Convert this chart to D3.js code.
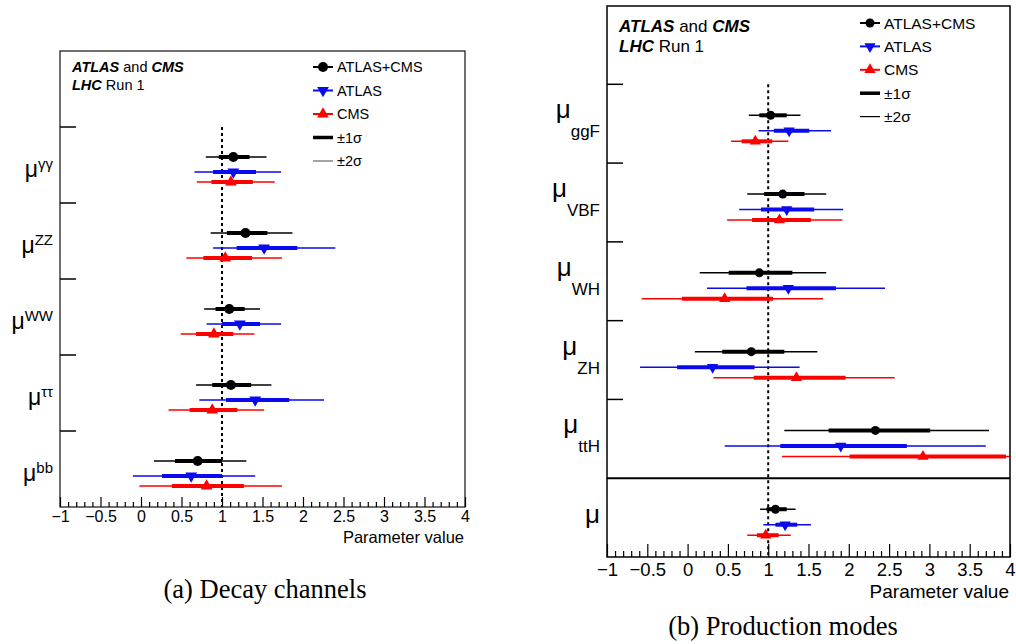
<!DOCTYPE html>
<html>
<head>
<meta charset="utf-8">
<script src="https://cdn.jsdelivr.net/npm/d3@7"></script>
<style>
  body { margin: 0; background: #fff; }
  text { font-family: "Liberation Sans", Arial, sans-serif; }
</style>
</head>
<body>
<div id="chart"></div>
<script>
// values: [central, -1σ, +1σ, -2σ, +2σ]
const decayChannels = ["γγ", "ZZ", "WW", "ττ", "bb"];
const decayComb = [
	[1.14, 0.96, 1.34, 0.80, 1.55],
	[1.29, 1.06, 1.56, 0.86, 1.87],
	[1.09, 0.92, 1.28, 0.78, 1.47],
	[1.11, 0.88, 1.36, 0.68, 1.61],
	[0.70, 0.42, 1.00, 0.16, 1.30],
];
const decayAtlas = [
	[1.14, 0.89, 1.42, 0.66, 1.73],
	[1.52, 1.18, 1.93, 0.89, 2.40],
	[1.22, 1.00, 1.47, 0.81, 1.73],
	[1.41, 1.05, 1.83, 0.72, 2.26],
	[0.62, 0.26, 1.00, -0.10, 1.41],
];
const decayCms = [
	[1.11, 0.87, 1.38, 0.69, 1.65],
	[1.04, 0.77, 1.37, 0.56, 1.74],
	[0.90, 0.68, 1.14, 0.49, 1.40],
	[0.88, 0.60, 1.19, 0.34, 1.52],
	[0.81, 0.38, 1.27, -0.02, 1.74],
];

const prodModes = ["ggF", "VBF", "WH", "ZH", "ttH", ""];
const prodComb = [
	[1.03, 0.89, 1.23, 0.76, 1.40],
	[1.18, 0.95, 1.45, 0.74, 1.72],
	[0.89, 0.51, 1.30, 0.15, 1.72],
	[0.79, 0.43, 1.20, 0.09, 1.61],
	[2.33, 1.75, 3.01, 1.20, 3.74],
	[1.09, 0.98, 1.23, 0.90, 1.34],
];
const prodAtlas = [
	[1.26, 1.07, 1.51, 0.88, 1.78],
	[1.23, 0.91, 1.57, 0.64, 1.93],
	[1.25, 0.73, 1.84, 0.24, 2.45],
	[0.31, -0.13, 0.83, -0.59, 1.39],
	[1.90, 1.15, 2.72, 0.46, 3.70],
	[1.21, 1.09, 1.36, 0.94, 1.53],
];
const prodCms = [
	[0.84, 0.67, 1.05, 0.54, 1.25],
	[1.14, 0.80, 1.53, 0.49, 1.92],
	[0.46, -0.07, 1.06, -0.57, 1.68],
	[1.35, 0.82, 1.96, 0.32, 2.57],
	[2.92, 2.01, 3.95, 1.17, 4.90],
	[0.97, 0.86, 1.13, 0.74, 1.28],
];

const xDomain = [-1, 4];
const majorTicks = d3.range(-1, 4.001, 0.5);
const minorTicks = d3.range(-1, 4.001, 0.1).filter((v) => Math.abs(v * 2 - Math.round(v * 2)) > 1e-6);
const legendNames = ["ATLAS+CMS", "ATLAS", "CMS", "±1σ", "±2σ"];

const svg = d3
	.select("#chart")
	.append("svg")
	.attr("width", 1016)
	.attr("height", 644);

const series_style = [
	{ color: "#000", shape: "circle" },
	{ color: "#0a0aee", shape: "down" },
	{ color: "#f00", shape: "up" },
];

function marker(g, shape, x, y, color, s) {
	if (shape == "circle") {
		g.append("circle").attr("cx", x).attr("cy", y).attr("r", s.r).attr("fill", color);
	} else {
		const sym = d3.symbol().type(d3.symbolTriangle).size(s.tri);
		g.append("path")
			.attr("d", sym)
			.attr("fill", color)
			.attr("transform", `translate(${x},${y}) rotate(${shape == "down" ? 180 : 0})`);
	}
}

function draw_panel(cfg) {
	const g = svg.append("g");
	const x = d3.scaleLinear().domain(xDomain).range([cfg.left, cfg.right]);
	const y = d3.scaleBand().domain(d3.range(cfg.rows.length)).range([cfg.bandTop, cfg.bottom]);

	const clipId = "clip" + cfg.id;
	g.append("clipPath").attr("id", clipId)
		.append("rect")
		.attr("x", cfg.left).attr("y", cfg.top)
		.attr("width", cfg.right - cfg.left).attr("height", cfg.bottom - cfg.top);

	// dotted SM line
	g.append("line")
		.attr("x1", x(1)).attr("x2", x(1))
		.attr("y1", cfg.bandTop).attr("y2", cfg.bottom)
		.attr("stroke", "#000").attr("stroke-width", 2)
		.attr("stroke-dasharray", "3,3");

	const data_g = g.append("g").attr("clip-path", `url(#${clipId})`);
	cfg.series.forEach((vals, si) => {
		const st = series_style[si];
		vals.forEach((v, i) => {
			const yy = y(i) + cfg.offsets[si];
			data_g.append("line")
				.attr("x1", x(v[3])).attr("x2", x(v[4]))
				.attr("y1", yy).attr("y2", yy)
				.attr("stroke", st.color).attr("stroke-width", cfg.thin);
			data_g.append("line")
				.attr("x1", x(v[1])).attr("x2", x(v[2]))
				.attr("y1", yy).attr("y2", yy)
				.attr("stroke", st.color).attr("stroke-width", cfg.thick);
			marker(data_g, st.shape, x(v[0]), yy, st.color, cfg.mk);
		});
	});

	// frame
	g.append("rect")
		.attr("x", cfg.left).attr("y", cfg.top)
		.attr("width", cfg.right - cfg.left).attr("height", cfg.bottom - cfg.top)
		.attr("fill", "none").attr("stroke", "#111").attr("stroke-width", cfg.frameW);

	// category ticks on the left edge
	const tickRows = d3.range(cfg.rows.length).filter((i) => !(cfg.sepRow === i));
	g.selectAll(null)
		.data(tickRows)
		.enter()
		.append("line")
		.attr("x1", cfg.left).attr("x2", cfg.left + 16)
		.attr("y1", (i) => y(i)).attr("y2", (i) => y(i))
		.attr("stroke", "#000").attr("stroke-width", 1.5);
	if (cfg.sepRow != null) {
		g.append("line")
			.attr("x1", cfg.left).attr("x2", cfg.right)
			.attr("y1", y(cfg.sepRow)).attr("y2", y(cfg.sepRow))
			.attr("stroke", "#000").attr("stroke-width", 2);
	}

	// x axis
	const axis_g = g.append("g").attr("transform", `translate(0,${cfg.bottom})`);
	axis_g.call(
		d3.axisBottom(x)
			.tickValues(majorTicks)
			.tickSize(-cfg.majorLen)
			.tickPadding(cfg.tickPad)
			.tickFormat(d3.format(""))
	);
	axis_g.select(".domain").remove();
	axis_g.selectAll(".tick line").attr("stroke-width", 1.2);
	axis_g.selectAll("text")
		.style("font-size", cfg.tickFont + "px")
		.attr("fill", "#000");
	const minor_g = g.append("g").attr("transform", `translate(0,${cfg.bottom})`);
	minor_g.call(d3.axisBottom(x).tickValues(minorTicks).tickSize(-cfg.minorLen).tickFormat(""));
	minor_g.select(".domain").remove();
	minor_g.selectAll(".tick line").attr("stroke-width", 1.2);

	g.append("text")
		.attr("x", cfg.right - 1)
		.attr("y", cfg.bottom + cfg.titleDy)
		.attr("text-anchor", "end")
		.style("font-size", cfg.titleFont + "px")
		.text("Parameter value");

	// row labels
	cfg.rows.forEach((lab, i) => {
		const t = g.append("text")
			.attr("x", cfg.labelX)
			.attr("y", y(i) + cfg.labelDy + (lab ? 0 : cfg.loneDy || 0))
			.attr("text-anchor", "end")
			.style("font-size", cfg.muFont + "px");
		t.append("tspan").text("μ");
		if (lab) {
			t.append("tspan")
				.attr("dy", cfg.subDy)
				.style("font-size", cfg.subFont + "px")
				.text(lab);
		}
	});

	// header
	const h = g.append("text")
		.attr("x", cfg.left + 12)
		.attr("y", cfg.top + cfg.headDy)
		.style("font-size", cfg.headFont + "px")
		.style("white-space", "pre");
	h.append("tspan").style("font-weight", "bold").style("font-style", "italic").text("ATLAS");
	h.append("tspan").text(" and ");
	h.append("tspan").style("font-weight", "bold").style("font-style", "italic").text("CMS");
	const h2 = g.append("text")
		.attr("x", cfg.left + 12)
		.attr("y", cfg.top + cfg.headDy + cfg.headGap)
		.style("font-size", cfg.headFont + "px")
		.style("white-space", "pre");
	h2.append("tspan").style("font-weight", "bold").style("font-style", "italic").text("LHC");
	h2.append("tspan").text(" Run 1");

	// legend
	legendNames.forEach((name, i) => {
		const ly = cfg.legTop + i * cfg.legGap;
		const lx0 = cfg.legX, lx1 = cfg.legX + 20;
		if (i < 3) {
			const st = series_style[i];
			g.append("line").attr("x1", lx0).attr("x2", lx1).attr("y1", ly).attr("y2", ly)
				.attr("stroke", st.color).attr("stroke-width", 2);
			marker(g, st.shape, (lx0 + lx1) / 2, ly, st.color, cfg.mk);
		} else {
			g.append("line").attr("x1", lx0).attr("x2", lx1).attr("y1", ly).attr("y2", ly)
				.attr("stroke", i == 3 ? "#000" : cfg.leg2Color)
				.attr("stroke-width", i == 3 ? 3.5 : 1.2);
		}
		g.append("text")
			.attr("x", lx1 + 4)
			.attr("y", ly + cfg.legFont * 0.36)
			.style("font-size", cfg.legFont + "px")
			.text(name);
	});

	g.append("text")
		.attr("x", cfg.capX)
		.attr("y", cfg.capY)
		.attr("text-anchor", "middle")
		.style("font-family", "'Liberation Serif', 'Times New Roman', serif")
		.style("font-size", "26.5px")
		.text(cfg.caption);
}

draw_panel({
	id: "a",
	rows: decayChannels,
	series: [decayComb, decayAtlas, decayCms],
	left: 60, right: 465, top: 51, bottom: 507, bandTop: 127,
	offsets: [30, 45, 55],
	thin: 1.5, thick: 4, frameW: 1.2,
	mk: { r: 5, tri: 60 },
	majorLen: 10, minorLen: 5, tickPad: 4, tickFont: 16,
	titleDy: 36, titleFont: 16.5,
	labelX: 53, labelDy: 50, muFont: 23, subDy: -8, subFont: 15,
	headDy: 21, headGap: 17.5, headFont: 14.5,
	legX: 313, legTop: 67, legGap: 23.5, legFont: 14.5, leg2Color: "#666",
	capX: 265, capY: 598, caption: "(a) Decay channels",
});

draw_panel({
	id: "b",
	rows: prodModes,
	series: [prodComb, prodAtlas, prodCms],
	sepRow: 5,
	left: 607, right: 1010, top: 6, bottom: 557, bandTop: 84.3,
	offsets: [31, 46.5, 57],
	thin: 1.5, thick: 4, frameW: 1.6,
	mk: { r: 4.5, tri: 55 },
	majorLen: 13, minorLen: 6, tickPad: 6, tickFont: 18.5,
	titleDy: 41, titleFont: 19,
	labelX: 600, labelDy: 34, loneDy: 11, muFont: 26, subDy: 19, subFont: 17,
	headDy: 26, headGap: 20, headFont: 17,
	legX: 860, legTop: 23, legGap: 23.4, legFont: 15.5, leg2Color: "#000",
	capX: 783, capY: 635, caption: "(b) Production modes",
});
</script>
</body>
</html>
